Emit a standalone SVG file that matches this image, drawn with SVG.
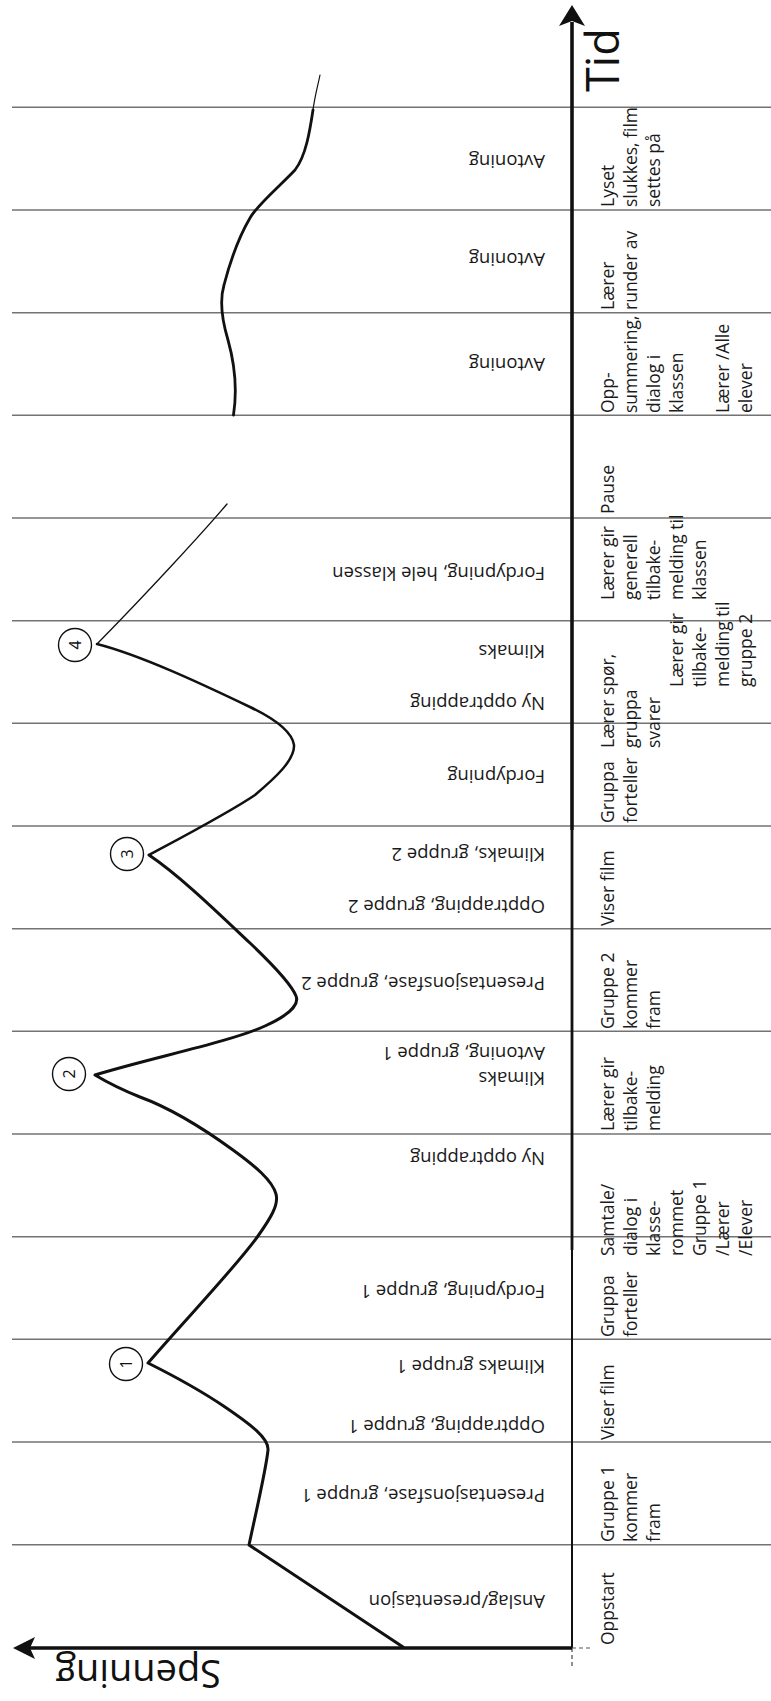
<svg xmlns="http://www.w3.org/2000/svg" width="771" height="1701" viewBox="0 0 771 1701">
<style>
.band{stroke:#737373;stroke-width:1.4;fill:none}
.col{font-family:"Open Sans","Noto Sans",sans-serif;font-size:17.5px;fill:#1a1a1a}
.cl{font-family:"Open Sans","Noto Sans",sans-serif;font-size:18.5px;fill:#1a1a1a}
.curve{fill:none;stroke:#111;stroke-linejoin:round;stroke-linecap:round}
.num{font-family:"Open Sans","Noto Sans",sans-serif;font-size:16px;fill:#111}
.ring{fill:#fff;stroke:#111;stroke-width:1.4}
</style>
<rect width="771" height="1701" fill="#fff"/>
<g id="bands">
<line class="band" x1="12" y1="107.3" x2="771" y2="107.3"/>
<line class="band" x1="12" y1="210" x2="771" y2="210"/>
<line class="band" x1="12" y1="312.7" x2="771" y2="312.7"/>
<line class="band" x1="12" y1="415.3" x2="771" y2="415.3"/>
<line class="band" x1="12" y1="518" x2="771" y2="518"/>
<line class="band" x1="12" y1="620.7" x2="771" y2="620.7"/>
<line class="band" x1="12" y1="723.3" x2="771" y2="723.3"/>
<line class="band" x1="12" y1="826" x2="771" y2="826"/>
<line class="band" x1="12" y1="928.7" x2="771" y2="928.7"/>
<line class="band" x1="12" y1="1031.3" x2="771" y2="1031.3"/>
<line class="band" x1="12" y1="1134" x2="771" y2="1134"/>
<line class="band" x1="12" y1="1236.7" x2="771" y2="1236.7"/>
<line class="band" x1="12" y1="1339.3" x2="771" y2="1339.3"/>
<line class="band" x1="12" y1="1442" x2="771" y2="1442"/>
<line class="band" x1="12" y1="1544.7" x2="771" y2="1544.7"/>
</g>
<g id="axes">
<line x1="572" y1="22" x2="572" y2="830" stroke="#111" stroke-width="3.6"/>
<line x1="572" y1="830" x2="572" y2="1250" stroke="#111" stroke-width="2.8"/>
<line x1="572" y1="1250" x2="572" y2="1648" stroke="#111" stroke-width="2"/>
<line x1="572" y1="1648" x2="572" y2="1667" stroke="#444" stroke-width="1.2" stroke-dasharray="4 3"/>
<path d="M572,5 L585,26 L572,21 L559,26 Z" fill="#111"/>
<line x1="30" y1="1648" x2="572" y2="1648" stroke="#111" stroke-width="3.4"/>
<line x1="572" y1="1648" x2="592" y2="1648" stroke="#555" stroke-width="1.2" stroke-dasharray="4 3"/>
<path d="M13,1648 L35,1637 L30,1648 L35,1659 Z" fill="#111"/>
<text font-family="'Open Sans','Noto Sans',sans-serif" font-size="45" fill="#111" transform="translate(619,92) rotate(-90)">Tid</text>
<text font-family="'Open Sans','Noto Sans',sans-serif" font-size="38" fill="#111" transform="translate(221,1660) rotate(180)">Spenning</text>
</g>
<g id="curve">
<path class="curve" stroke-width="3" d="M403,1647 L249,1545 C256,1512 266,1470 268,1450 C269,1438 250,1424 225,1407 C200,1390 170,1374 148,1363 C185,1320 235,1268 258,1236 C270,1219 279,1205 276,1194 C272,1180 255,1166 233,1150 C200,1126 170,1108 140,1097 C120,1089 105,1081 95,1075 C150,1058 230,1042 265,1026 C285,1017 300,1006 296,996 C291,983 270,962 250,943 C215,910 180,876 149,855"/>
<path class="curve" stroke-width="2.5" d="M149,855 C190,833 230,812 255,795 C275,778 295,760 294,745 C292,732 275,719 250,707 C200,683 140,655 97,644"/>
<path class="curve" stroke-width="1.3" d="M97,644 C150,590 205,530 227,504"/>
<path class="curve" stroke-width="2.8" d="M233.5,415 C237,392 235,365 228,340 C222,320 219,302 224,285 C230,262 240,235 250,218 C257,205 280,186 295,170 C306,156 310,130 313,110"/>
<path class="curve" stroke-width="1.2" d="M313,110 C315,95 318,85 320,75"/>
</g>
<g id="peaks">
<g id="peak1"><circle class="ring" cx="126" cy="1364" r="16.5"/><text class="num" text-anchor="middle" dominant-baseline="central" transform="translate(126,1364) rotate(-90)">1</text></g>
<g id="peak2"><circle class="ring" cx="69" cy="1074" r="16.5"/><text class="num" text-anchor="middle" dominant-baseline="central" transform="translate(69,1074) rotate(-90)">2</text></g>
<g id="peak3"><circle class="ring" cx="127" cy="854" r="16.5"/><text class="num" text-anchor="middle" dominant-baseline="central" transform="translate(127,854) rotate(-90)">3</text></g>
<g id="peak4"><circle class="ring" cx="75" cy="645" r="16.5"/><text class="num" text-anchor="middle" dominant-baseline="central" transform="translate(75,645) rotate(-90)">4</text></g>
</g>
<g id="curve-labels">
<text class="cl" transform="translate(545,155) rotate(180)">Avtoning</text>
<text class="cl" transform="translate(545,253) rotate(180)">Avtoning</text>
<text class="cl" transform="translate(545,358) rotate(180)">Avtoning</text>
<text class="cl" transform="translate(545,567) rotate(180)">Fordypning, hele klassen</text>
<text class="cl" transform="translate(545,645) rotate(180)">Klimaks</text>
<text class="cl" transform="translate(545,697) rotate(180)">Ny opptrapping</text>
<text class="cl" transform="translate(545,770) rotate(180)">Fordypning</text>
<text class="cl" transform="translate(545,848) rotate(180)">Klimaks, gruppe 2</text>
<text class="cl" transform="translate(545,900) rotate(180)">Opptrapping, gruppe 2</text>
<text class="cl" transform="translate(545,977) rotate(180)">Presentasjonsfase, gruppe 2</text>
<text class="cl" transform="translate(545,1047) rotate(180)">Avtoning, gruppe 1</text>
<text class="cl" transform="translate(545,1072) rotate(180)">Klimaks</text>
<text class="cl" transform="translate(545,1152) rotate(180)">Ny opptrapping</text>
<text class="cl" transform="translate(545,1285) rotate(180)">Fordypning, gruppe 1</text>
<text class="cl" transform="translate(545,1360) rotate(180)">Klimaks gruppe 1</text>
<text class="cl" transform="translate(545,1420) rotate(180)">Opptrapping, gruppe 1</text>
<text class="cl" transform="translate(545,1489) rotate(180)">Presentasjonsfase, gruppe 1</text>
<text class="cl" transform="translate(545,1595) rotate(180)">Anslag/presentasjon</text>
</g>
<g id="activity-labels">
<text class="col" transform="translate(614,207) rotate(-90)">Lyset</text>
<text class="col" transform="translate(637,207) rotate(-90)">slukkes, film</text>
<text class="col" transform="translate(660,207) rotate(-90)">settes på</text>
<text class="col" transform="translate(614,310) rotate(-90)">Lærer</text>
<text class="col" transform="translate(637,310) rotate(-90)">runder av</text>
<text class="col" transform="translate(614,413) rotate(-90)">Opp-</text>
<text class="col" transform="translate(637,413) rotate(-90)">summering,</text>
<text class="col" transform="translate(660,413) rotate(-90)">dialog i</text>
<text class="col" transform="translate(683,413) rotate(-90)">klassen</text>
<text class="col" transform="translate(729,413) rotate(-90)">Lærer /Alle</text>
<text class="col" transform="translate(752,413) rotate(-90)">elever</text>
<text class="col" transform="translate(614,514) rotate(-90)">Pause</text>
<text class="col" transform="translate(614,600) rotate(-90)">Lærer gir</text>
<text class="col" transform="translate(637,600) rotate(-90)">generell</text>
<text class="col" transform="translate(660,600) rotate(-90)">tilbake-</text>
<text class="col" transform="translate(683,600) rotate(-90)">melding til</text>
<text class="col" transform="translate(706,600) rotate(-90)">klassen</text>
<text class="col" transform="translate(683,687) rotate(-90)">Lærer gir</text>
<text class="col" transform="translate(706,687) rotate(-90)">tilbake-</text>
<text class="col" transform="translate(729,687) rotate(-90)">melding til</text>
<text class="col" transform="translate(752,687) rotate(-90)">gruppe 2</text>
<text class="col" transform="translate(614,748) rotate(-90)">Lærer spør,</text>
<text class="col" transform="translate(637,748) rotate(-90)">gruppa</text>
<text class="col" transform="translate(660,748) rotate(-90)">svarer</text>
<text class="col" transform="translate(614,823) rotate(-90)">Gruppa</text>
<text class="col" transform="translate(637,823) rotate(-90)">forteller</text>
<text class="col" transform="translate(614,926) rotate(-90)">Viser film</text>
<text class="col" transform="translate(614,1029) rotate(-90)">Gruppe 2</text>
<text class="col" transform="translate(637,1029) rotate(-90)">kommer</text>
<text class="col" transform="translate(660,1029) rotate(-90)">fram</text>
<text class="col" transform="translate(614,1131) rotate(-90)">Lærer gir</text>
<text class="col" transform="translate(637,1131) rotate(-90)">tilbake-</text>
<text class="col" transform="translate(660,1131) rotate(-90)">melding</text>
<text class="col" transform="translate(614,1256) rotate(-90)">Samtale/</text>
<text class="col" transform="translate(637,1256) rotate(-90)">dialog i</text>
<text class="col" transform="translate(660,1256) rotate(-90)">klasse-</text>
<text class="col" transform="translate(683,1256) rotate(-90)">rommet</text>
<text class="col" transform="translate(706,1256) rotate(-90)">Gruppe 1</text>
<text class="col" transform="translate(729,1256) rotate(-90)">/Lærer</text>
<text class="col" transform="translate(752,1256) rotate(-90)">/Elever</text>
<text class="col" transform="translate(614,1337) rotate(-90)">Gruppa</text>
<text class="col" transform="translate(637,1337) rotate(-90)">forteller</text>
<text class="col" transform="translate(614,1440) rotate(-90)">Viser film</text>
<text class="col" transform="translate(614,1542) rotate(-90)">Gruppe 1</text>
<text class="col" transform="translate(637,1542) rotate(-90)">kommer</text>
<text class="col" transform="translate(660,1542) rotate(-90)">fram</text>
<text class="col" transform="translate(614,1645) rotate(-90)">Oppstart</text>
</g>
</svg>
